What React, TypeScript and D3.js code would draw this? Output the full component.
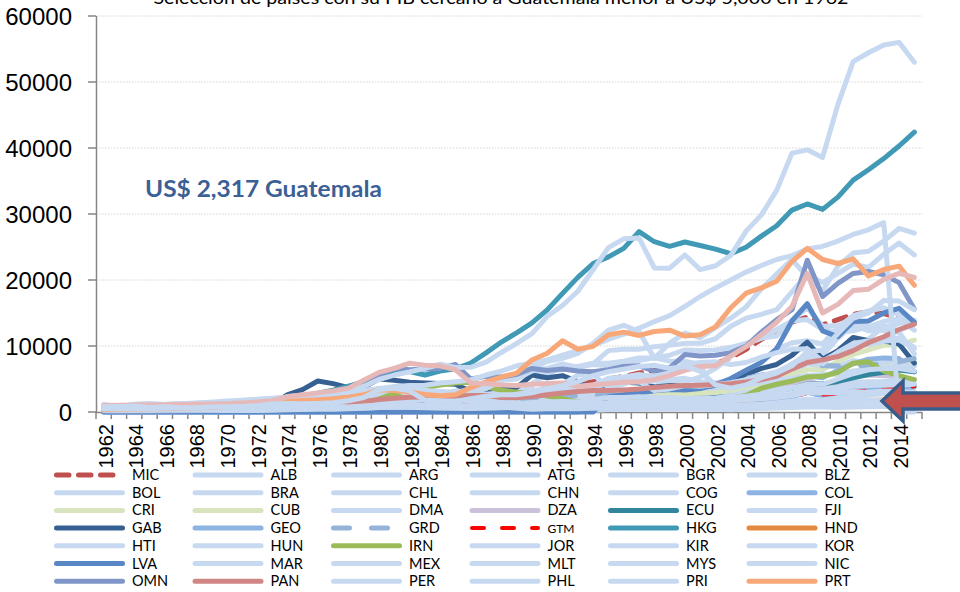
import React from 'react';
import * as d3 from 'd3';

const years = [
  1962, 1963, 1964, 1965, 1966, 1967, 1968, 1969, 1970, 1971, 1972, 1973, 1974, 1975, 1976, 1977, 1978, 1979,
  1980, 1981, 1982, 1983, 1984, 1985, 1986, 1987, 1988, 1989, 1990, 1991, 1992, 1993, 1994, 1995, 1996, 1997,
  1998, 1999, 2000, 2001, 2002, 2003, 2004, 2005, 2006, 2007, 2008, 2009, 2010, 2011, 2012, 2013, 2014, 2015,
];
const yTicks = [0, 10000, 20000, 30000, 40000, 50000, 60000];
const xLabelYears = [1962, 1964, 1966, 1968, 1970, 1972, 1974, 1976, 1978, 1980, 1982, 1984, 1986, 1988, 1990,
  1992, 1994, 1996, 1998, 2000, 2002, 2004, 2006, 2008, 2010, 2012, 2014];

const titleText = 'Selección de países con su PIB cercano a Guatemala menor a US$ 5,000 en 1962';
const annotationText = 'US$ 2,317 Guatemala';

// ---- series values 1962..2015 ----
const MIC = [500,520,560,600,640,680,700,750,800, 850,920,1050,1250,1400,1550,1700,1900,2200,2600, 2900,2800,2500,2500,2600,2700,2900,3000,3100,3300, 3600,3900,4200,4600,5000,5400,5900,6300,6500,6800, 7000,7300,8200,9500,11000,12400,13600,14400,13200,14000, 14800,15200,14900,14300,13300];
const ALB = [0,0,0,0,0,0,0,0,0, 0,0,0,0,0,0,0,0,0,0, 0,0,0,660,640,690,670,660,640,620, 340,200,360,590,750,1000,720,810,1030,1130, 1280,1420,1850,2370,2670,3000,3600,4370,4110,4090, 4440,4250,4400,4600,3950];
const ARG = [1150,850,1170,1270,1150,1270,1300,1470,1320, 1380,1400,2020,2180,2000,1840,2000,2100,2400,2700, 2800,2900,3300,3100,2900,3300,3300,3500,2400,4300, 5700,6800,6900,7400,7400,7700,8200,8200,7700,7700, 7200,2600,3300,4000,4700,5500,6600,8200,7700,9100, 10800,11000,13000,12300,13400];
const ATG = [300,320,340,360,380,400,420,450,480, 520,560,620,700,780,850,950,1100,1400,1700, 1900,2100,2300,2700,3200,3700,4300,5000,5600,6100, 6200,6400,6800,7200,7000,7500,7800,8200,8600,9400, 9300,9400,9800,10400,11200,12500,13800,14000,12500,12100, 12300,12900,12800,13400,13900];
const BGR = [0,0,0,0,0,0,0,0,0, 0,0,0,0,0,0,0,0,0,2600, 2600,2700,2700,2700,2600,2900,3300,3700,3200,2400, 1300,1400,1400,1200,1600,1300,1300,1600,1600,1600, 1800,2100,2700,3400,3900,4500,5900,7300,6900,6900, 7800,7400,7700,7900,7000];
const BLZ = [400,420,440,460,480,500,520,540,570, 600,650,720,900,1050,960,1050,1150,1280,1400, 1400,1300,1280,1350,1300,1350,1550,1750,1950,2150, 2250,2450,2600,2600,2700,2700,2700,2700,2800,3200, 3300,3400,3600,3700,3900,4100,4300,4400,4200,4300, 4500,4600,4600,4800,4900];
const BOL = [160,170,180,200,210,230,240,250,260, 270,270,330,470,480,520,580,620,690,800, 810,710,680,740,790,600,660,700,700,720, 790,810,810,830,900,970,1010,1050,1000,1000, 940,900,910,950,1030,1200,1380,1720,1720,1930, 2340,2580,2880,3080,3080];
const BRA = [260,290,260,260,330,350,370,400,440, 490,560,760,1000,1150,1360,1550,1730,1900,1930, 2100,2200,1570,1570,1600,1900,2100,2300,2900,3100, 2700,2500,2800,3500,4700,5100,5200,5000,3400,3700, 3100,2800,3000,3600,4700,5800,7300,8700,8600,11200, 13200,12300,12300,12100,8800];
const CHL = [650,640,650,690,740,760,760,850,930, 1080,1100,1600,1500,700,900,1100,1300,1800,2500, 2900,2100,1700,1650,1400,1500,1800,2100,2400,2500, 2800,3300,3500,4000,5100,5300,5700,5400,4900,5100, 4600,4400,4800,6200,7600,9500,10500,10800,10300,12800, 14600,15300,15800,14700,13600];
const CHN = [70,75,85,100,105,100,90,100,110, 120,130,160,160,180,160,190,160,180,190, 200,200,220,250,290,280,250,280,310,320, 330,370,380,470,600,710,780,830,870,960, 1050,1150,1290,1510,1750,2100,2700,3470,3840,4560, 5630,6340,7080,7680,8070];
const COG = [150,160,170,180,190,200,220,230,250, 280,320,380,450,550,580,620,680,800,1000, 1100,1200,1150,1100,1050,1000,1050,1000,1050,1200, 1150,1200,1050,700,850,950,850,800,900,1100, 1000,1000,1150,1400,1800,2200,2300,3100,2400,2900, 3400,3800,3600,3700,2600];
const COL = [270,300,330,300,290,290,290,310,340, 360,400,450,520,550,640,760,880,1050,1250, 1300,1370,1340,1300,1200,1150,1200,1270,1240,1200, 1220,1400,1550,2000,2300,2400,2700,2500,2200,2500, 2400,2400,2300,2800,3400,3700,4700,5500,5200,6300, 7300,8000,8200,8100,6100];
const CRI = [380,390,400,410,430,460,480,510,550, 580,630,740,820,950,1100,1350,1500,1700,2000, 1200,1100,1300,1400,1500,1600,1650,1650,1800,1950, 2050,2350,2650,2850,3050,3050,3200,3450,3650,3800, 3900,4000,4100,4250,4500,5000,5700,6400,6400,7700, 8700,9400,10100,10200,10900];
const CUB = [600,620,650,650,650,680,700,680,750, 800,950,1100,1250,1350,1400,1500,1600,1700,1800, 1950,2050,2150,2200,2300,2250,2250,2350,2300,2500, 2100,1800,1800,1900,2300,2450,2500,2550,2700,2750, 2850,2950,3200,3450,3800,4700,5200,5400,5600,5700, 6100,6400,6700,7200,7600];
const DMA = [180,190,200,210,220,240,260,280,300, 320,350,400,450,500,520,580,640,700,800, 900,1000,1100,1200,1300,1400,1600,1800,2000,2200, 2300,2500,2600,2700,2900,3100,3200,3400,3600,3800, 3800,3700,4000,4100,4500,4800,5100,5500,5700,5800, 6200,6400,6600,7000,7100];
const DZA = [220,230,240,250,250,270,300,330,360, 370,480,590,860,950,1050,1250,1450,1750,2200, 2250,2250,2350,2450,2600,2700,2700,2400,2200,2400, 1700,1750,1800,1500,1450,1600,1600,1600,1600,1750, 1750,1800,2100,2600,3100,3500,3950,4900,3900,4500, 5450,5600,5500,5500,4200];
const ECU = [230,250,270,290,300,310,320,280,270, 280,320,420,640,700,820,980,1050,1240,1450, 1660,1500,1230,1200,1240,1100,1000,950,1000,1050, 1160,1220,1450,1740,1820,1850,2010,1960,1380,1450, 1890,2170,2430,2690,3000,3330,3570,4250,4230,4630, 5190,5660,6030,6350,6100];
const FJI = [290,300,320,330,340,350,380,410,450, 500,620,780,900,1100,1200,1300,1500,1700,1900, 1900,1800,1700,1800,1600,1700,1600,1600,1600,1900, 2000,2200,2300,2400,2500,2700,2500,2000,2200,2000, 2000,2100,2500,3000,3300,3400,3700,3800,3200,3400, 4100,4400,4600,5000,4900];
const GAB = [320,340,360,390,420,450,460,500,560, 620,720,1000,2600,3400,4700,4300,3700,3800,5000, 4800,4500,4400,4300,4200,3100,3300,3400,3700,5600, 5200,5500,4600,3300,4000,4500,4400,3800,4000,4100, 3800,4000,4800,5700,6600,7200,8600,10600,8000,9300, 11300,10800,10800,10300,7400];
const GEO = [0,0,0,0,0,0,0,0,0, 0,0,0,0,0,0,0,0,0,0, 0,0,0,0,0,0,0,0,0,0, 0,0,0,550,580,720,900,930,660,700, 750,780,920,1190,1480,1760,2320,2970,2460,2630, 3240,3530,3600,3680,3800];
const GRD = [60,80,100,130,160,190,220,260,300, 340,380,420,470,520,560,620,700,800,900, 1000,1100,1150,1250,1400,1600,1750,1900,2050,2200, 2300,2400,2450,2550,2700,2900,3000,3150,3500,4000, 4200,4300,4600,5100,5600,6200,6800,7200,7000,7000, 7000,7100,7300,7600,8100];
const GTM = [270,290,300,310,320,330,340,350,360, 370,390,450,550,600,700,800,850,950,1050, 1100,1100,1100,1150,1250,1000,1000,1050,1050,950, 1150,1200,1250,1350,1450,1500,1600,1650,1550,1650, 1700,1850,1900,2000,2150,2300,2500,2750,2650,2800, 3100,3250,3350,3600,3900];
const HKG = [485,555,618,677,688,711,709,826,960, 1100,1380,1870,2100,2250,2850,3300,3920,4550,5700, 5990,6130,5600,6210,6540,7430,8960,10600,12000,13490, 15470,17980,20400,22500,23500,24800,27330,25800,25100,25760, 25230,24670,23980,24960,26650,28220,30590,31520,30700,32550, 35140,36710,38400,40300,42400];
const HND = [240,250,260,270,280,290,300,310,320, 330,340,360,390,400,450,520,570,620,690, 720,740,760,790,820,850,880,930,950,850, 800,840,820,750,800,780,860,910,900,1000, 1030,1040,1060,1100,1180,1270,1400,1500,1500,1550, 1680,1750,1800,1900,2300];
const HTI = [80,80,90,90,90,95,95,100,105, 110,120,140,170,190,220,250,280,320,370, 390,370,400,420,450,490,460,440,440,430, 400,360,300,250,370,390,430,460,470,460, 440,410,350,460,540,590,690,750,770,700, 770,790,830,850,820];
const HUN = [500,550,600,650,700,750,800,850,900, 950,1050,1250,1450,1600,1700,1900,2200,2400,2600, 2700,2650,2400,2300,2300,2500,2700,2900,3000,3300, 3300,3700,3800,4100,4500,4500,4600,4700,4800,4600, 5300,6600,8400,10300,11200,11500,13900,15800,13000,13100, 14100,12900,13700,14100,12400];
const IRN = [200,210,220,240,260,290,320,350,380, 450,550,800,1400,1600,2000,2300,2100,2300,2300, 2600,3100,3700,4100,4400,4500,3800,3300,3000,2800, 2400,2000,1500,1200,1500,1700,1700,1700,1600,1600, 1700,1900,2100,2500,3600,4200,4700,5300,5400,6000, 7400,7600,6200,5500,4900];
const JOR = [240,250,260,280,300,320,330,350,360, 380,420,470,550,650,800,950,1100,1400,1700, 1850,1900,1900,1850,1800,1900,1900,1800,1300,1200, 1200,1350,1350,1400,1500,1500,1550,1550,1550,1700, 1750,1800,1850,1950,2100,2400,2700,3300,3500,3700, 3900,4000,4100,4100,4200];
const KIR = [100,110,120,130,140,160,180,200,250, 300,350,450,700,800,650,600,550,700,750, 650,600,550,550,500,450,450,500,500,550, 550,550,600,650,700,800,800,750,800,750, 700,700,850,1000,1100,1100,1300,1400,1300,1500, 1700,1800,1750,1700,1600];
const KOR = [110,140,120,110,130,160,190,240,280, 300,320,400,560,620,830,1050,1400,1780,1700, 1880,1990,2200,2410,2480,2830,3550,4750,5820,6610, 7640,8130,8880,10390,12400,13140,12190,8130,10430,11950, 11250,12780,14210,15920,18640,20920,23100,20480,18340,22090, 24080,24360,25890,27810,27110];
const LVA = [0,0,0,0,0,0,0,0,0, 0,0,0,0,0,0,0,0,0,0, 0,0,0,0,0,0,0,0,0,0, 0,0,0,0,2330,2600,2950,3220,3410,3350, 3550,4130,5080,6320,7520,9600,13800,16400,12300,11400, 13700,13800,15000,15700,13600];
const MAR = [190,200,210,220,220,230,240,250,260, 280,320,380,450,540,560,620,700,800,950, 800,800,700,650,650,750,850,950,1000,1100, 1150,1250,1150,1250,1400,1500,1350,1400,1400,1300, 1300,1400,1700,1900,2000,2200,2500,2900,2900,2900, 3100,3000,3200,3200,2900];
const MEX = [390,420,480,520,570,600,650,690,710, 770,860,1020,1250,1480,1450,1300,1600,2000,2800, 3600,2500,2000,2400,2500,1700,1900,2300,2700,3100, 3700,4200,5600,5700,3700,4200,5100,5400,6100,7200, 7500,7600,7200,7500,8300,9000,9500,9600,7700,9000, 10100,10200,10700,10900,9600];
const MLT = [450,470,480,520,560,600,650,700,800, 900,1000,1200,1400,1600,1800,2100,2500,3000,3600, 3600,3500,3300,3000,3000,3400,4100,4800,5000,6200, 6600,7300,6800,7300,9300,9500,9500,9900,10100,10400, 10400,11100,13000,14200,14800,15500,18200,20900,19600,21000, 22400,21900,23900,25600,23800];
const MYS = [300,310,320,330,340,340,350,370,360, 390,450,650,800,760,880,1050,1250,1600,1800, 1850,1950,2100,2250,2000,1750,1950,2100,2250,2400, 2650,3100,3450,3750,4300,4750,4600,3250,3500,4000, 3900,4150,4450,4900,5550,6100,7250,8500,7300,9050, 10400,10800,10900,11200,9800];
const NIC = [260,280,300,330,350,360,370,380,400, 420,440,500,650,700,750,850,750,600,700, 800,800,850,900,950,1000,1200,850,550,400, 500,500,500,550,600,650,650,700,750,800, 800,780,780,850,900,1000,1100,1200,1200,1250, 1400,1500,1550,1650,1800];
const OMN = [80,90,100,110,130,150,200,260,330, 380,420,500,1700,2000,2300,2500,2700,3400,5600, 6600,6400,6500,6600,7200,5000,5400,5300,5700,6600, 6300,6500,6200,6100,6400,6900,7000,6200,6700,8700, 8500,8600,9000,10000,12100,14000,15500,23000,17500,19500, 21000,21300,20800,19600,15600];
const PAN = [450,480,510,540,580,620,650,700,760, 820,880,960,1080,1180,1250,1320,1450,1600,1900, 2080,2250,2280,2350,2430,2500,2500,2200,2150,2350, 2600,2880,3100,3250,3250,3350,3500,3700,3900,4000, 4050,4150,4300,4550,4900,5400,6500,7500,7900,8400, 9300,10500,11400,12500,13300];
const PER = [350,370,410,460,540,510,450,480,540, 580,640,720,870,1030,990,880,770,900,1030, 1200,1200,1000,1000,900,1000,1400,1200,1300,1200, 1500,1600,1500,1900,2200,2200,2300,2200,2000,2000, 2000,2100,2200,2400,2700,3100,3600,4200,4200,5000, 5800,6400,6600,6600,6200];
const PHL = [260,220,230,240,250,260,260,270,220, 230,240,280,350,370,400,430,490,580,670, 720,730,630,590,560,540,570,630,690,720, 720,810,820,940,1060,1160,1130,940,1050,1040, 950,1000,1020,1080,1190,1400,1680,1920,1830,2130, 2360,2580,2770,2840,2870];
const PRI = [850,900,980,1060,1150,1240,1350,1480,1650, 1780,1950,2100,2250,2350,2500,2700,2950,3300,3500, 3850,4000,4050,4400,4600,4850,5600,6200,7000,7400, 7900,8600,9300,10100,11000,11800,12700,13700,14600,16000, 17500,18800,20000,21200,22200,23100,23700,24700,25100,25900, 26900,27600,28700,0,0];
const PRT = [380,410,440,490,540,600,660,730,820, 930,1130,1470,1690,1800,1850,2000,2240,2600,3360, 3250,3030,2640,2470,2620,3700,4560,5300,5900,7880, 8900,10800,9500,9950,11700,12100,11600,12200,12400,11500, 11700,12900,15800,18000,18800,19800,22800,24800,23100,22500, 23200,20600,21600,22100,19200];
// series drawn in the chart beyond the legend's visible entries
const SGP = [490,541,501,516,566,626,708,812,925, 1071,1264,1685,2341,2490,2770,2846,3193,3900,4928, 5596,6078,6633,7228,6733,6779,7539,9018,10394,11862, 14502,16136,18290,21553,24915,26233,26376,21829,21796,23793, 21577,22160,23730,27405,29870,33580,39224,39722,38578,46570, 53094,54431,55618,56007,53000];
const TTO = [1000,1020,1050,1080,1100,1130,1170,1200,1250, 1350,1500,1700,2300,2600,2900,3200,3600,4800,6000, 6600,7400,7100,7000,6400,4400,4300,4100,4000,4200, 4300,4400,3900,4100,4300,4500,4600,4900,5500,6300, 6900,7000,8500,9900,11700,13600,16000,21000,15000,16300, 18400,18600,20100,21000,20400];
const URY = [800,850,900,700,800,650,650,750,800, 850,950,1200,1300,1250,1300,1400,1700,2200,3400, 3600,3200,1800,1700,1600,2000,2400,2600,2600,2900, 3500,4000,4600,5500,6100,6500,6900,7100,6600,6900, 6200,4100,3600,4100,5200,5900,7000,9100,9400,11900, 14200,15000,16900,16800,15500];

const legendNames = ['MIC','ALB','ARG','ATG','BGR','BLZ','BOL','BRA','CHL','CHN','COG','COL','CRI','CUB','DMA','DZA',
  'ECU','FJI','GAB','GEO','GRD','GTM','HKG','HND','HTI','HUN','IRN','JOR','KIR','KOR','LVA','MAR','MEX','MLT','MYS',
  'NIC','OMN','PAN','PER','PHL','PRI','PRT'];
const extraNames = ['SGP', 'TTO', 'URY'];

const seriesValues: Record<string, number[]> = {
  MIC, ALB, ARG, ATG, BGR, BLZ, BOL, BRA, CHL, CHN, COG, COL, CRI, CUB, DMA, DZA, ECU, FJI, GAB, GEO, GRD, GTM,
  HKG, HND, HTI, HUN, IRN, JOR, KIR, KOR, LVA, MAR, MEX, MLT, MYS, NIC, OMN, PAN, PER, PHL, PRI, PRT, SGP, TTO, URY,
};

// ---- styles ----
const LIGHT = '#c6d9f1';
const styles: Record<string, { color: string; dash?: string; width?: number }> = {
  MIC: { color: '#c0504d', dash: '12.5 9.5' },
  COL: { color: '#8db3e2' },
  CRI: { color: '#d7e4bd' },
  CUB: { color: '#d7e4bd' },
  DZA: { color: '#ccc1da' },
  ECU: { color: '#31859c' },
  GAB: { color: '#376092' },
  GEO: { color: '#8db3e2' },
  GRD: { color: '#95b3d7', dash: '16 22' },
  GTM: { color: '#ff0000', dash: '12 18', width: 4 },
  HKG: { color: '#4099b5' },
  HND: { color: '#e38a3f' },
  IRN: { color: '#9bbb59' },
  LVA: { color: '#5a87c5' },
  OMN: { color: '#8096c8' },
  PAN: { color: '#d08684' },
  PRT: { color: '#f8a878' },
  TTO: { color: '#e6b9b8' },
};
const styleOf = (n: string) => styles[n] || { color: LIGHT };

const W = 960;
const H = 592;
const plotLeft = 96;
const plotRight = 922;
const plotTop = 16;
const plotBottom = 412;

export default function App() {
  const x = d3.scaleBand<number>().domain(years).range([plotLeft, plotRight]).padding(0);
  const bw = x.bandwidth();
  const y = d3.scaleLinear().domain([0, 60000]).range([plotBottom, plotTop]);
  const line = d3
    .line<number>()
    .x((_d, i) => (x(years[i]) as number) + bw / 2)
    .y((d) => y(d));

  const drawOrder = [...legendNames, ...extraNames];
  const tickXs = [...years.map((yr) => x(yr) as number), plotRight];

  const axisColor = '#868686';
  const legendCol0 = 54;
  const legendColStep = 138.5;
  const legendRow0 = 475;
  const legendRowStep = 17.7;
  const legendLineLen = 71;

  return (
    <svg
      width={W}
      height={H}
      style={{ position: 'absolute', left: 0, top: 0, background: '#fff' }}
      xmlns="http://www.w3.org/2000/svg"
    >
      <rect x={0} y={0} width={W} height={H} fill="#ffffff" />
      {/* title (partly cut at the top) */}
      <text
        x={501}
        y={4}
        textAnchor="middle"
        fontFamily="Lato, 'Liberation Sans', sans-serif"
        fontSize={17}
        textLength={695}
        lengthAdjust="spacingAndGlyphs"
        fill="#000"
      >
        {titleText}
      </text>

      {/* gridlines */}
      {yTicks.filter((t) => t > 0).map((t) => (
        <line
          key={'g' + t}
          x1={plotLeft}
          x2={plotRight}
          y1={y(t)}
          y2={y(t)}
          stroke="#d4d4d4"
          strokeWidth={1}
          strokeDasharray="1.5 1.5"
        />
      ))}

      {/* y axis */}
      <line x1={plotLeft + 0.5} x2={plotLeft + 0.5} y1={plotTop} y2={plotBottom} stroke={axisColor} strokeWidth={1.5} />
      {yTicks.map((t) => (
        <g key={'yt' + t}>
          <line x1={88} x2={plotLeft} y1={y(t)} y2={y(t)} stroke={axisColor} strokeWidth={1.5} />
          <text
            x={72}
            y={y(t) + 8.5}
            textAnchor="end"
            fontFamily="'Liberation Sans', Arial, sans-serif"
            fontSize={24}
            fill="#000"
          >
            {t}
          </text>
        </g>
      ))}

      {/* x axis */}
      <line x1={plotLeft} x2={plotRight} y1={plotBottom + 0.5} y2={plotBottom + 0.5} stroke={axisColor} strokeWidth={1.5} />
      {tickXs.map((tx, i) => (
        <line key={'xt' + i} x1={tx} x2={tx} y1={plotBottom} y2={plotBottom + 7} stroke={axisColor} strokeWidth={1.5} />
      ))}
      {xLabelYears.map((yr) => {
        const cx = (x(yr) as number) + bw / 2 + 9;
        const cy = 424;
        return (
          <text
            key={'xl' + yr}
            x={cx}
            y={cy}
            transform={`rotate(-90 ${cx} ${cy})`}
            textAnchor="end"
            fontFamily="'Liberation Sans', Arial, sans-serif"
            fontSize={20}
            fill="#000"
          >
            {yr}
          </text>
        );
      })}

      {/* series */}
      <g fill="none" strokeLinejoin="round" strokeLinecap="round">
        {drawOrder.map((n) => {
          const s = styleOf(n);
          return (
            <path
              key={'s' + n}
              d={line(seriesValues[n]) || ''}
              stroke={s.color}
              strokeWidth={s.width || 5}
              strokeDasharray={s.dash}
            />
          );
        })}
      </g>

      {/* annotation */}
      <text
        x={145}
        y={197}
        fontFamily="Lato, 'Liberation Sans', sans-serif"
        fontWeight="bold"
        fontSize={22}
        fill="#3b6096"
        textLength={237}
        lengthAdjust="spacingAndGlyphs"
      >
        {annotationText}
      </text>

      {/* arrow */}
      <polygon
        points="882,401 903,381 903,393 964,393 964,409 903,409 903,421"
        fill="#c0504d"
        stroke="#385d8a"
        strokeWidth={3.5}
        strokeLinejoin="miter"
      />

      {/* legend */}
      {legendNames.map((n, i) => {
        const row = Math.floor(i / 6);
        const col = i % 6;
        const lx = legendCol0 + col * legendColStep;
        const ly = legendRow0 + row * legendRowStep;
        const s = styleOf(n);
        return (
          <g key={'lg' + n}>
            <line
              x1={lx + 2.5}
              x2={lx + legendLineLen - 2.5}
              y1={ly}
              y2={ly}
              stroke={s.color}
              strokeWidth={s.width || 5}
              strokeLinecap="round"
              strokeDasharray={s.dash}
            />
            <text
              x={lx + 78}
              y={ly + 5}
              fontFamily="Lato, 'Liberation Sans', sans-serif"
              fontSize={n === 'GTM' ? 12 : 14.5}
              fill="#000"
            >
              {n}
            </text>
          </g>
        );
      })}
    </svg>
  );
}
